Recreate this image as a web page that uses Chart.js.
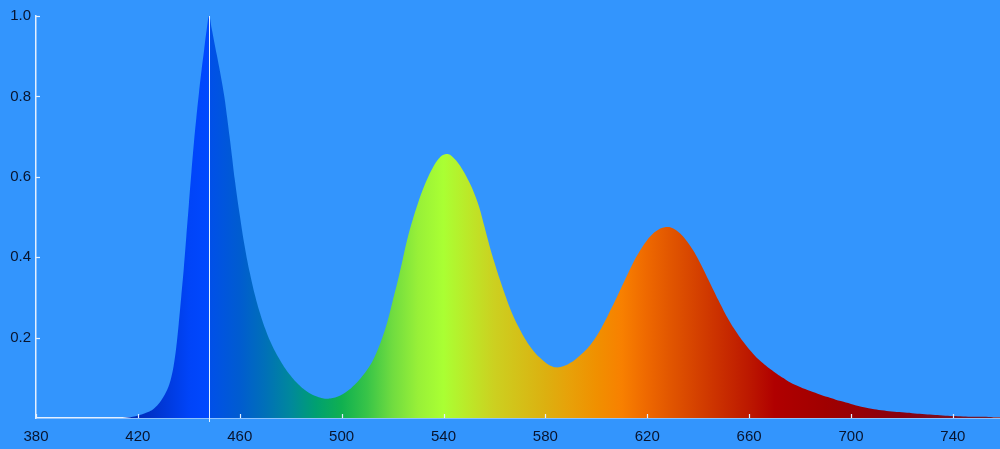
<!DOCTYPE html>
<html>
<head>
<meta charset="utf-8">
<script src="https://cdn.jsdelivr.net/npm/chart.js@4/dist/chart.umd.min.js"></script>
<style>
  html, body { margin: 0; padding: 0; background: #3395fd; }
  canvas { display: block; }
</style>
</head>
<body>
<canvas id="spectrum" width="1000" height="449"></canvas>
<script>
// wavelength (nm) and relative intensity
const wavelengths = [
  414, 418, 420, 422, 424, 426, 428, 430, 432, 433, 434, 435, 436, 437, 438, 439,
  440, 441, 442, 443, 444, 445, 446, 447, 448, 449, 450, 451, 452, 453, 454, 455,
  456, 457, 458, 460,
  462, 464, 466, 468, 470, 472, 474, 476, 478, 480, 482, 484, 486, 488, 490, 492,
  494, 496, 498, 500, 502, 504, 506, 508, 510, 512, 514, 516, 518, 520, 522, 524,
  526, 528, 530, 532, 534, 536, 538, 540, 542, 544, 546, 548, 550, 552, 554, 556,
  558, 560, 562, 564, 566, 568, 570, 572, 574, 576, 578, 580, 582, 584, 586, 588,
  590, 592, 594, 596, 598, 600, 602, 604, 606, 608, 610, 612, 614, 616, 618, 620,
  622, 624, 626, 628, 630, 632, 634, 636, 638, 640, 642, 644, 646, 648, 650, 652,
  654, 656, 658, 660, 662, 664, 666, 668, 670, 672, 674, 676, 680, 684, 688, 692,
  696, 700, 704, 708, 712, 716, 720, 724, 728, 732, 736, 740, 744, 748, 752, 756, 760
];
const intensity = [
  0, 0.003, 0.006, 0.01, 0.015, 0.022, 0.034, 0.052, 0.078, 0.098, 0.128, 0.172, 0.232, 0.30, 0.37, 0.45,
  0.53, 0.61, 0.685, 0.75, 0.81, 0.865, 0.915, 0.965, 1.0, 0.968, 0.935, 0.903, 0.87, 0.835, 0.797, 0.75,
  0.70, 0.648, 0.595, 0.505,
  0.425, 0.36, 0.305, 0.26, 0.222, 0.19, 0.164, 0.142, 0.122, 0.105, 0.09, 0.078, 0.068, 0.06, 0.054, 0.05,
  0.048, 0.049, 0.052, 0.058, 0.066, 0.076, 0.088, 0.103, 0.12, 0.14, 0.167, 0.20, 0.24, 0.29, 0.34, 0.395,
  0.45, 0.495, 0.535, 0.57, 0.60, 0.625, 0.644, 0.655, 0.656, 0.647, 0.632, 0.612, 0.588, 0.56, 0.525, 0.478,
  0.43, 0.387, 0.347, 0.31, 0.275, 0.245, 0.22, 0.197, 0.178, 0.162, 0.149, 0.138, 0.13, 0.126, 0.127, 0.131,
  0.138, 0.147, 0.158, 0.17, 0.185, 0.203, 0.224, 0.248, 0.274, 0.30, 0.327, 0.354, 0.38, 0.404, 0.425, 0.443,
  0.457, 0.467, 0.473, 0.475, 0.472, 0.464, 0.452, 0.436, 0.417, 0.395, 0.37, 0.344, 0.318, 0.292, 0.267, 0.244,
  0.223, 0.204, 0.187, 0.171, 0.157, 0.144, 0.133, 0.123, 0.114, 0.105, 0.097, 0.089, 0.077, 0.067, 0.058, 0.05,
  0.042, 0.035, 0.028, 0.023, 0.019, 0.016, 0.014, 0.012, 0.010, 0.008, 0.0065, 0.005, 0.004, 0.003, 0.003, 0.002, 0.002
];
const xTickValues = [380, 420, 460, 500, 540, 580, 620, 660, 700, 740];
const yTickValues = [0.2, 0.4, 0.6, 0.8, 1.0];
const peakMarker = 448;

// spectrum colours keyed by wavelength
const colourStops = [
  [416, '#0028b0'], [430, '#0038d8'], [440, '#0044f8'], [447.5, '#0048ff'],
  [448.5, '#0050e8'], [460, '#005cd0'], [470, '#0070b8'], [480, '#00889c'],
  [490, '#00a070'], [500, '#10b050'], [510, '#38c448'], [520, '#70dc40'],
  [530, '#98f038'], [540, '#aaff33'], [550, '#bce828'], [560, '#ccd020'],
  [570, '#d4c018'], [580, '#dcb010'], [590, '#e8a008'], [600, '#f09000'],
  [610, '#f88000'], [620, '#ee6800'], [630, '#e05400'], [640, '#d44000'],
  [650, '#c82c00'], [660, '#bc1800'], [670, '#b00000'], [690, '#a00000'],
  [720, '#880010'], [760, '#702030']
];

const axisColour = '#e4f0ff';
const labelColour = '#08142e';

function spectrumFill(context) {
  const chart = context.chart;
  const area = chart.chartArea;
  if (!area) return null;
  const xs = chart.scales.x;
  const x0 = xs.getPixelForValue(colourStops[0][0]);
  const x1 = xs.getPixelForValue(colourStops[colourStops.length - 1][0]);
  const g = chart.ctx.createLinearGradient(x0, 0, x1, 0);
  colourStops.forEach(([nm, c]) => {
    g.addColorStop((xs.getPixelForValue(nm) - x0) / (x1 - x0), c);
  });
  return g;
}

// ticks point inward in the original, plus the thin peak marker
const decorations = {
  id: 'decorations',
  afterDatasetsDraw(chart) {
    const { ctx, chartArea, scales } = chart;
    ctx.save();
    ctx.strokeStyle = axisColour;
    ctx.lineWidth = 1;
    const px = Math.round(scales.x.getPixelForValue(peakMarker)) + 0.5;
    ctx.beginPath();
    ctx.moveTo(px, chartArea.top);
    ctx.lineTo(px, chartArea.bottom + 4);
    ctx.stroke();

    ctx.lineWidth = 1.2;
    xTickValues.forEach(v => {
      const x = Math.round(scales.x.getPixelForValue(v)) + 0.5;
      ctx.beginPath();
      ctx.moveTo(x, chartArea.bottom);
      ctx.lineTo(x, chartArea.bottom - 4);
      ctx.stroke();
    });
    yTickValues.forEach(v => {
      const y = Math.round(scales.y.getPixelForValue(v)) + 0.5;
      ctx.beginPath();
      ctx.moveTo(chartArea.left, y);
      ctx.lineTo(chartArea.left + 4, y);
      ctx.stroke();
    });
    ctx.restore();
  }
};

new Chart(document.getElementById('spectrum'), {
  type: 'line',
  data: {
    datasets: [{
      data: wavelengths.map((w, i) => ({ x: w, y: intensity[i] })),
      backgroundColor: spectrumFill,
      borderWidth: 0,
      borderColor: 'rgba(0,0,0,0)',
      pointRadius: 0,
      fill: 'origin',
      tension: 0.4
    }]
  },
  options: {
    responsive: false,
    animation: false,
    devicePixelRatio: 1,
    layout: { padding: { top: 16, right: 0, left: 0, bottom: 0 } },
    plugins: {
      legend: { display: false },
      tooltip: { enabled: false }
    },
    scales: {
      x: {
        type: 'linear',
        min: 380,
        max: 758.5,
        afterBuildTicks: scale => { scale.ticks = xTickValues.map(v => ({ value: v })); },
        afterFit: scale => { scale.height = 31; },
        grid: { display: false, drawTicks: false },
        border: { display: true, color: axisColour, width: 1.5 },
        ticks: {
          autoSkip: false,
          maxRotation: 0,
          padding: 10,
          color: labelColour,
          font: { family: 'Liberation Sans, Arial, sans-serif', size: 15 },
          callback: v => String(v)
        }
      },
      y: {
        min: 0,
        max: 1.0,
        afterBuildTicks: scale => { scale.ticks = yTickValues.map(v => ({ value: v })); },
        afterFit: scale => { scale.width = 36; },
        grid: { display: false, drawTicks: false },
        border: { display: true, color: axisColour, width: 1.5 },
        ticks: {
          padding: 5,
          color: labelColour,
          font: { family: 'Liberation Sans, Arial, sans-serif', size: 15 },
          callback: v => v.toFixed(1)
        }
      }
    }
  },
  plugins: [decorations]
});
</script>
</body>
</html>
